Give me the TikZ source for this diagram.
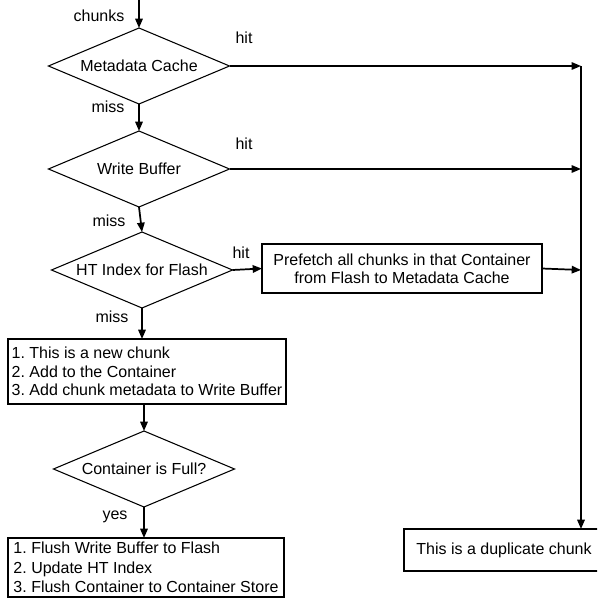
\documentclass[tikz,border=0pt]{standalone}
\usepackage{fontspec}
\setmainfont{Liberation Sans}
\usetikzlibrary{shapes.geometric,arrows.meta}
\frenchspacing
\begin{document}
\begin{tikzpicture}[x=0.75pt,y=-0.75pt,
  every node/.style={font=\fontsize{12}{13.8}\selectfont, outer sep=0pt},
  dec/.style={draw, line width=0.8pt, shape=diamond, aspect=2.38, inner sep=0pt, minimum width=135.75pt, minimum height=57pt},
  box/.style={draw, line width=0.8pt, rectangle, inner sep=0pt},
  listbox/.style={box, align=left, inner xsep=1.5pt},
  lbl/.style={inner sep=0pt},
  arr/.style={line width=1.3pt, -{Triangle[length=7pt,width=5.6pt]}},
  hitline/.style={line width=1pt, -{Triangle[length=7pt,width=5.6pt]}}
]
\clip (0,0) rectangle (597,600);
% decisions
\node[dec] (d1) at (139,66) {Metadata Cache};
\node[dec] (d2) at (139,169) {Write Buffer};
\node[dec] (d3) at (142,270) {HT Index for Flash};
\node[dec] (d4) at (144,469) {Container is Full?};
% boxes
\node[box, minimum width=210pt, minimum height=36.75pt, align=center] (pf) at (402,268.5)
  {Prefetch all chunks in that Container\\from Flash to Metadata Cache};
\node[listbox, minimum width=208.5pt, minimum height=48.75pt] (b1) at (147,371.5)
  {1. This is a new chunk\\2. Add to the Container\\3. Add chunk metadata to Write Buffer};
\node[listbox, minimum width=207pt, minimum height=44.25pt, font=\fontsize{12}{14.6}\selectfont] (b2) at (146,567.5)
  {1. Flush Write Buffer to Flash\\2. Update HT Index\\3. Flush Container to Container Store};
\node[box, minimum width=150pt, minimum height=31.5pt] (dup) at (504,550) {This is a duplicate chunk};
% coordinates
\coordinate (in) at (139,0);
\coordinate (r1) at (581,66);
\coordinate (r2) at (581,169);
\coordinate (r3) at (581,270);
% labels
\node[lbl] (lchunks) at (99,16) {chunks};
\node[lbl] (lmiss1) at (108,107) {miss};
\node[lbl] (lmiss2) at (109,221) {miss};
\node[lbl] (lmiss3) at (112,317) {miss};
\node[lbl] (lyes) at (115,517) {yes};
\node[lbl] (lhit1) at (244,38) {hit};
\node[lbl] (lhit2) at (244,144) {hit};
\node[lbl] (lhit3) at (241,253) {hit};
% connectors
\draw[arr] (in) -- (d1.north);
\draw[arr] (d1.south) -- (d2.north);
\draw[arr] (d2.south) -- (d3.north);
\draw[arr] (d3.south) -- (d3.south |- b1.north);
\draw[arr] (b1.south -| d4.north) -- (d4.north);
\draw[arr] (d4.south) -- (d4.south |- b2.north);
\draw[arr] (d3.east) -- (pf.west);
\draw[hitline] (d1.east) -- (r1);
\draw[hitline] (d2.east) -- (r2);
\draw[arr] (pf.east) -- (r3);
\draw[arr] (r1) -- (r1 |- dup.north);
\end{tikzpicture}
\end{document}
